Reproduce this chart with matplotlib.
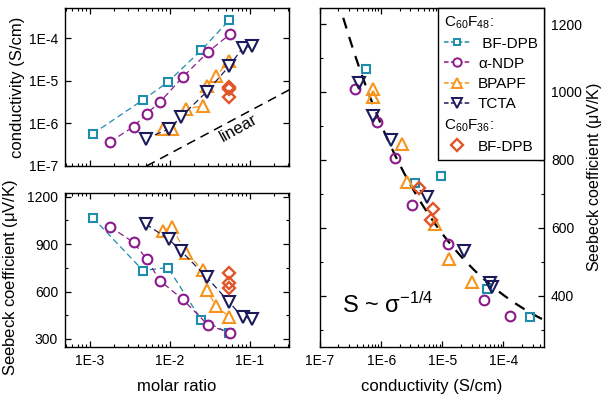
import numpy as np
import matplotlib
matplotlib.use('Agg')
import matplotlib.pyplot as plt
from matplotlib.lines import Line2D
from matplotlib.ticker import FixedLocator, FuncFormatter, MultipleLocator, LogLocator, NullLocator

plt.rcParams['font.family'] = ['Liberation Sans', 'DejaVu Sans']
plt.rcParams['mathtext.fontset'] = 'custom'
plt.rcParams['mathtext.rm'] = 'Liberation Sans'

# C60F48 dopants: molar ratio, conductivity (S/cm), Seebeck coefficient (uV/K)
bfdpb_x = [1.08e-3, 4.6e-3, 9.4e-3, 0.0246, 0.055]
bfdpb_sig = [5.7e-7, 3.6e-6, 9.4e-6, 5.3e-5, 2.7e-4]
bfdpb_S = [1068, 733, 752, 421, 338]

andp_x = [1.78e-3, 3.5e-3, 5.1e-3, 7.5e-3, 0.0144, 0.0299, 0.056]
andp_sig = [3.7e-7, 8.4e-7, 1.7e-6, 3.2e-6, 1.23e-5, 4.8e-5, 1.26e-4]
andp_S = [1010, 911, 806, 668, 551, 388, 339]

bpapf_x = [8.2e-3, 0.0105, 0.0158, 0.0256, 0.0288, 0.0376, 0.0551]
bpapf_sig = [7.4e-7, 7.4e-7, 2.2e-6, 2.6e-6, 7.5e-6, 1.3e-5, 3.0e-5]
bpapf_S = [986, 1008, 846, 736, 610, 508, 441]

tcta_x = [4.97e-3, 9.7e-3, 0.0137, 0.0288, 0.0551, 0.081, 0.105]
tcta_sig = [4.4e-7, 7.4e-7, 1.44e-6, 5.6e-6, 2.25e-5, 6.0e-5, 6.5e-5]
tcta_S = [1027, 930, 858, 690, 532, 437, 426]

# C60F36 : BF-DPB
f36_x = [0.055, 0.055, 0.055]
f36_sig = [4.1e-6, 7.1e-6, 6.5e-6]
f36_S = [716, 656, 624]

# guide lines
linear_x = [5.1e-3, 0.31]
linear_y = [1e-7, 6.2e-6]
fit_S0, fit_A = 170., 23.2          # S = S0 + A * sigma^(-1/4)
fit_range = [2.4e-7, 4.6e-4]

series = [
    ('BF-DPB', bfdpb_x, bfdpb_sig, bfdpb_S, '#1f8cad', 's', 6),
    (r'$\mathregular{\alpha}$-NDP', andp_x, andp_sig, andp_S, '#8c1a8c', 'o', 7),
    ('BPAPF', bpapf_x, bpapf_sig, bpapf_S, '#f7941d', '^', 8),
    ('TCTA', tcta_x, tcta_sig, tcta_S, '#1b1b5c', 'v', 8),
]
f36_color = '#e0552a'

fig = plt.figure(figsize=(6.04, 3.94), dpi=100)
ax1 = fig.add_axes([0.1076, 0.5787, 0.3709, 0.401])
ax2 = fig.add_axes([0.1076, 0.120, 0.3709, 0.390])
ax3 = fig.add_axes([0.5298, 0.120, 0.3709, 0.8596])

dec_fmt = FuncFormatter(lambda v, p: '1E%d' % int(round(np.log10(v))))

for name, x, sig, S, c, m, ms in series:
    kw = dict(color=c, marker=m, ms=ms, mfc='white', mec=c, mew=1.5,
              lw=0.9, dashes=(5, 3))
    ax1.plot(x, sig, **kw)
    ax2.plot(x, S, **kw)
    ax3.plot(sig, S, color=c, marker=m, ms=ms, mfc='none', mec=c, mew=1.5,
             ls='none')

dkw = dict(ls='none', marker='D', ms=6, mfc='none', mec=f36_color, mew=1.7)
ax1.plot(f36_x, f36_sig, **dkw)
ax2.plot(f36_x, f36_S, **dkw)
ax3.plot(f36_sig, f36_S, **dkw)

# linear guide
ax1.plot(linear_x, linear_y, color='black', lw=1.1, dashes=(6, 4))
ax1.text(0.071, 7.6e-7, 'linear', rotation=29, ha='center', va='center', fontsize=12)

# S ~ sigma^-1/4 fit
sg = np.logspace(np.log10(fit_range[0]), np.log10(fit_range[1]), 200)
ax3.plot(sg, fit_S0 + fit_A * sg ** -0.25, color='black', lw=1.6, dashes=(5, 4), zorder=1)
ax3.text(0.10, 0.10, r'S ~ $\mathregular{\sigma^{-1/4}}$', transform=ax3.transAxes,
         fontsize=17)

# axes setup
for ax in (ax1, ax2):
    ax.set_xscale('log')
    ax.set_xlim(4.87e-4, 0.307)
    ax.xaxis.set_major_locator(FixedLocator([1e-3, 1e-2, 1e-1]))
    ax.xaxis.set_major_formatter(dec_fmt)
    ax.xaxis.set_minor_locator(LogLocator(base=10, subs=np.arange(2, 10)))

ax1.set_yscale('log')
ax1.set_ylim(1e-7, 5.2e-4)
ax1.yaxis.set_major_locator(FixedLocator([1e-7, 1e-6, 1e-5, 1e-4]))
ax1.yaxis.set_major_formatter(dec_fmt)
ax1.yaxis.set_minor_locator(NullLocator())
ax1.tick_params(labelbottom=False)
ax1.set_ylabel('conductivity (S/cm)', fontsize=12)

ax2.set_ylim(251, 1223)
ax2.yaxis.set_major_locator(MultipleLocator(300))
ax2.yaxis.set_minor_locator(MultipleLocator(150))
ax2.set_xlabel('molar ratio', fontsize=12, labelpad=8)
ax2.set_ylabel(r'Seebeck coefficient ($\mathregular{\mu}$V/K)', fontsize=12)

ax3.set_xscale('log')
ax3.set_xlim(1e-7, 4.6e-4)
ax3.xaxis.set_major_locator(FixedLocator([1e-7, 1e-6, 1e-5, 1e-4]))
ax3.xaxis.set_major_formatter(dec_fmt)
ax3.xaxis.set_minor_locator(LogLocator(base=10, subs=np.arange(2, 10)))
ax3.set_ylim(250, 1247)
ax3.yaxis.set_major_locator(MultipleLocator(200))
ax3.yaxis.set_minor_locator(MultipleLocator(100))
ax3.yaxis.set_label_position('right')
ax3.set_xlabel('conductivity (S/cm)', fontsize=12, labelpad=8)
ax3.set_ylabel(r'Seebeck coefficient ($\mathregular{\mu}$V/K)', fontsize=11.5, labelpad=2)

for ax in (ax1, ax2, ax3):
    ax.tick_params(which='both', direction='in', top=True, right=True, labelsize=10)
    ax.tick_params(which='major', length=4, width=0.9, pad=5)
    ax.tick_params(which='minor', length=2.2, width=0.8)
    for s in ax.spines.values():
        s.set_linewidth(1.0)
ax3.tick_params(labelleft=False, labelright=True)

ax1.yaxis.set_label_coords(-0.18, 0.5)
ax2.yaxis.set_label_coords(-0.20, 0.45)

# legend
leg_fs = 11
hlen, hpad = 1.7, 0.55
blank = Line2D([], [], ls='none')
handles = [blank]
labels = [r'$\mathregular{C_{60}F_{48}}$:']
for name, x, sig, S, c, m, ms in series:
    handles.append(Line2D([], [], color=c, marker=m, ms=ms - 1, mfc='white', mec=c,
                          mew=1.4, lw=1.1, dashes=(3, 1.5)))
    labels.append((' ' if name == 'BF-DPB' else '') + name)
handles.append(blank)
labels.append(r'$\mathregular{C_{60}F_{36}}$:')
handles.append(Line2D([], [], ls='none', marker='D', ms=6, mfc='none', mec=f36_color, mew=1.7))
labels.append('BF-DPB')
leg = ax3.legend(handles, labels, loc='upper right', borderaxespad=0, fontsize=leg_fs,
                 handlelength=hlen, handletextpad=hpad, labelspacing=0.4,
                 fancybox=False, framealpha=1, edgecolor='black', borderpad=0.4)
leg.get_frame().set_linewidth(1.0)
shift = (hlen + hpad) * leg_fs * fig.dpi / 72.
texts = leg.get_texts()
for i in (0, 5):
    texts[i].set_x(-shift)

fig.savefig('out.png', dpi=100)
